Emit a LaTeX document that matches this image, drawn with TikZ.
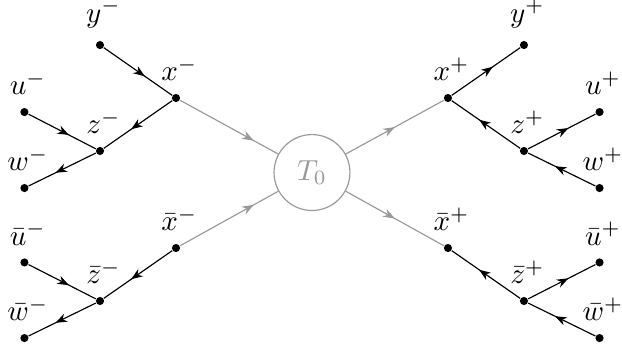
\documentclass[tikz,border=0pt]{standalone}
\usepackage{amsmath}
\usepackage{tikz}
\usetikzlibrary{arrows.meta, decorations.markings}

\begin{document}
\begin{tikzpicture}[
  dot/.style={circle, fill=black, inner sep=0pt, minimum size=2.8pt},
  every label/.style={xshift=1.2pt, inner sep=1pt},
  label distance=3.1pt,
  hub/.style={circle, draw=black!40, text=black!40, fill=white,
              minimum size=0.92cm, inner sep=0pt},
  arr/.style={postaction={decorate}, decoration={markings,
      mark=at position #1 with {\arrow{Stealth[length=4pt,width=3pt]}}}},
  arr/.default=0.6,
  garr/.style={arr=#1, black!40}
]
  \useasboundingbox (-3.781,-2.176) rectangle (3.757,2.091);

  \node[hub] (T) at (0,0) {$T_0$};

  % minus side
  \node[dot, label={above:$y^-$}]       (ym)  at (-2.569, 1.545) {};
  \node[dot, label={above:$x^-$}]       (xm)  at (-1.648, 0.903) {};
  \node[dot, label={above:$u^-$}]       (um)  at (-3.485, 0.733) {};
  \node[dot, label={above:$z^-$}]       (zm)  at (-2.569, 0.261) {};
  \node[dot, label={above:$w^-$}]       (wm)  at (-3.485,-0.188) {};
  \node[dot, label={above:$\bar{x}^-$}] (bxm) at (-1.648,-0.915) {};
  \node[dot, label={above:$\bar{u}^-$}] (bum) at (-3.485,-1.090) {};
  \node[dot, label={above:$\bar{z}^-$}] (bzm) at (-2.569,-1.557) {};
  \node[dot, label={above:$\bar{w}^-$}] (bwm) at (-3.485,-2.006) {};

  % plus side
  \node[dot, label={above:$y^+$}]       (yp)  at (2.569, 1.545) {};
  \node[dot, label={above:$x^+$}]       (xp)  at (1.648, 0.903) {};
  \node[dot, label={above:$u^+$}]       (up)  at (3.485, 0.733) {};
  \node[dot, label={above:$z^+$}]       (zp)  at (2.569, 0.261) {};
  \node[dot, label={above:$w^+$}]       (wp)  at (3.485,-0.188) {};
  \node[dot, label={above:$\bar{x}^+$}] (bxp) at (1.648,-0.915) {};
  \node[dot, label={above:$\bar{u}^+$}] (bup) at (3.485,-1.090) {};
  \node[dot, label={above:$\bar{z}^+$}] (bzp) at (2.569,-1.557) {};
  \node[dot, label={above:$\bar{w}^+$}] (bwp) at (3.485,-2.006) {};

  \draw[arr] (ym) -- (xm);
  \draw[arr] (xm) -- (zm);
  \draw[arr] (um) -- (zm);
  \draw[arr] (zm) -- (wm);
  \draw[garr=0.75] (xm) -- (T);
  \draw[arr] (bxm) -- (bzm);
  \draw[arr] (bum) -- (bzm);
  \draw[arr] (bzm) -- (bwm);
  \draw[garr=0.75] (bxm) -- (T);

  \draw[garr=0.5] (T) -- (xp);
  \draw[arr] (xp) -- (yp);
  \draw[arr] (zp) -- (xp);
  \draw[arr] (zp) -- (up);
  \draw[arr] (wp) -- (zp);
  \draw[garr=0.5] (T) -- (bxp);
  \draw[arr] (bzp) -- (bxp);
  \draw[arr] (bzp) -- (bup);
  \draw[arr] (bwp) -- (bzp);
\end{tikzpicture}
\end{document}
